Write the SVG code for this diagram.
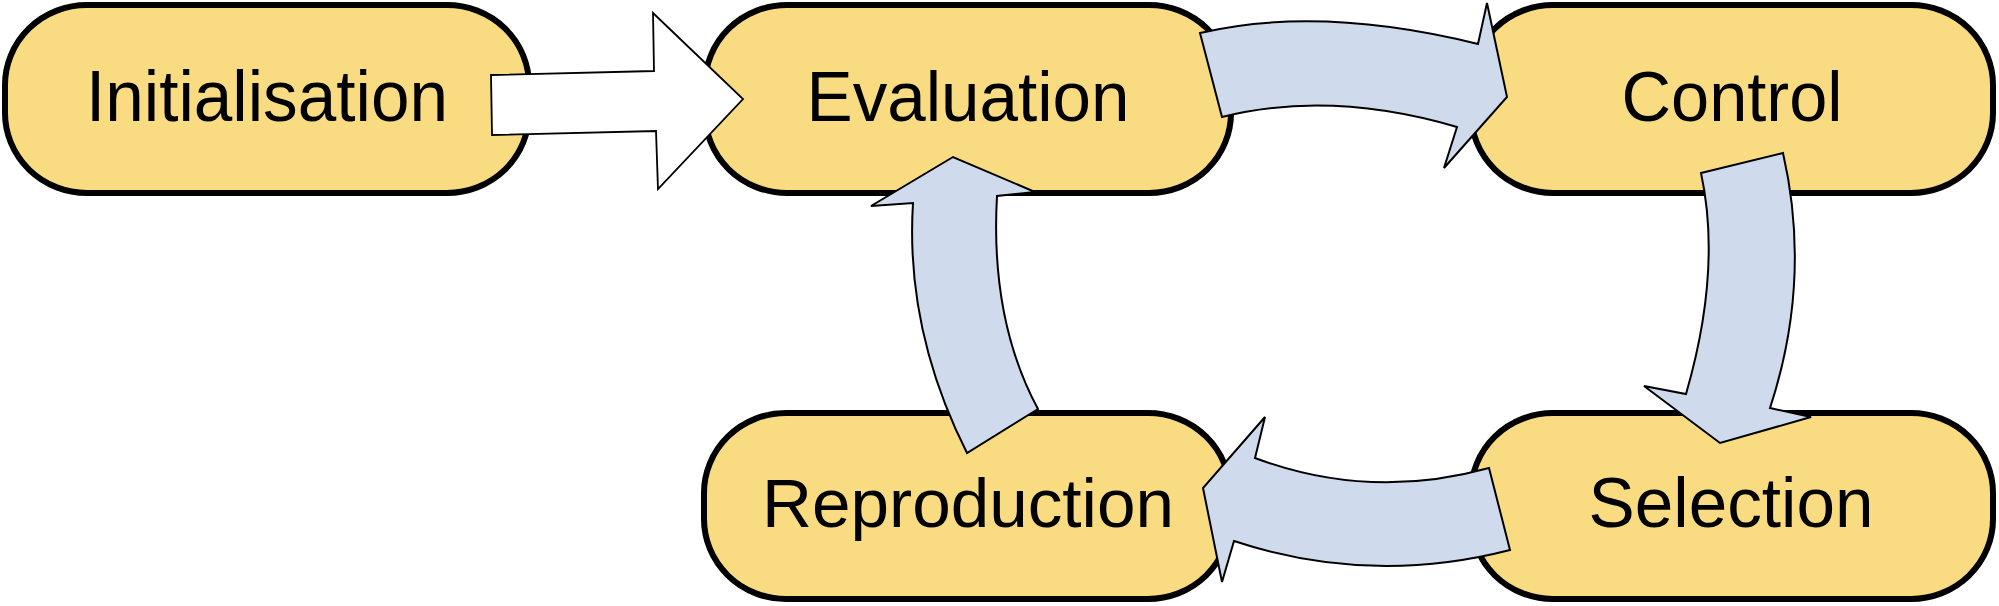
<svg xmlns="http://www.w3.org/2000/svg" width="1999" height="606" viewBox="0 0 1999 606">
<style>
.box{fill:#f9dc81;stroke:#000;stroke-width:6}
.lbl{font-family:"Liberation Sans",Arial,sans-serif;fill:#000;text-anchor:middle}
.cyc{fill:#cfdbed;stroke:#000;stroke-width:2;stroke-linejoin:miter}
.init{fill:#fff;stroke:#000;stroke-width:1.8}
</style>
<rect width="1999" height="606" fill="#fff"/>
<g id="node-initialisation">
<rect class="box" x="5" y="5" width="524" height="188" rx="82" ry="80"/>
<text class="lbl" x="267" y="121" font-size="72" textLength="362" lengthAdjust="spacingAndGlyphs">Initialisation</text>
</g>
<g id="node-evaluation">
<rect class="box" x="705" y="5" width="526" height="188" rx="82" ry="80"/>
<text class="lbl" x="968" y="121" font-size="70" textLength="323" lengthAdjust="spacingAndGlyphs">Evaluation</text>
</g>
<g id="node-control">
<rect class="box" x="1471" y="5" width="522" height="188" rx="82" ry="80"/>
<text class="lbl" x="1732" y="121" font-size="70" textLength="221" lengthAdjust="spacingAndGlyphs">Control</text>
</g>
<g id="node-reproduction">
<rect class="box" x="704" y="413" width="526" height="186" rx="82" ry="80"/>
<text class="lbl" x="968" y="527" font-size="68" textLength="412" lengthAdjust="spacingAndGlyphs">Reproduction</text>
</g>
<g id="node-selection">
<rect class="box" x="1471" y="413" width="522" height="186" rx="82" ry="80"/>
<text class="lbl" x="1731" y="527" font-size="70" textLength="285" lengthAdjust="spacingAndGlyphs">Selection</text>
</g>
<g id="connectors">
<path class="init" d="M491,75 L654,71 L653,13 L743,99 L658,189 L656,131 L492,135 Z"/>
<path class="cyc" d="M1200,33 Q1320,5 1478,44 L1487,3 L1507,97 L1444,168 L1457,127 Q1330,90 1222,117 Z"/>
<path class="cyc" d="M1701,173 L1783,153 Q1812,280 1770,408 L1811,417 L1720,443 L1644,386 L1686,394 Q1722,270 1701,173 Z"/>
<path class="cyc" d="M1489,468 Q1370,501 1255,458 L1265,417 L1203,488 L1222,582 L1234,541 Q1370,586 1510,550 Z"/>
<path class="cyc" d="M967,453 Q905,330 913,203 L871,206 L953,157 L1035,192 L997,196 Q990,320 1038,409 Z"/>
</g>
</svg>
